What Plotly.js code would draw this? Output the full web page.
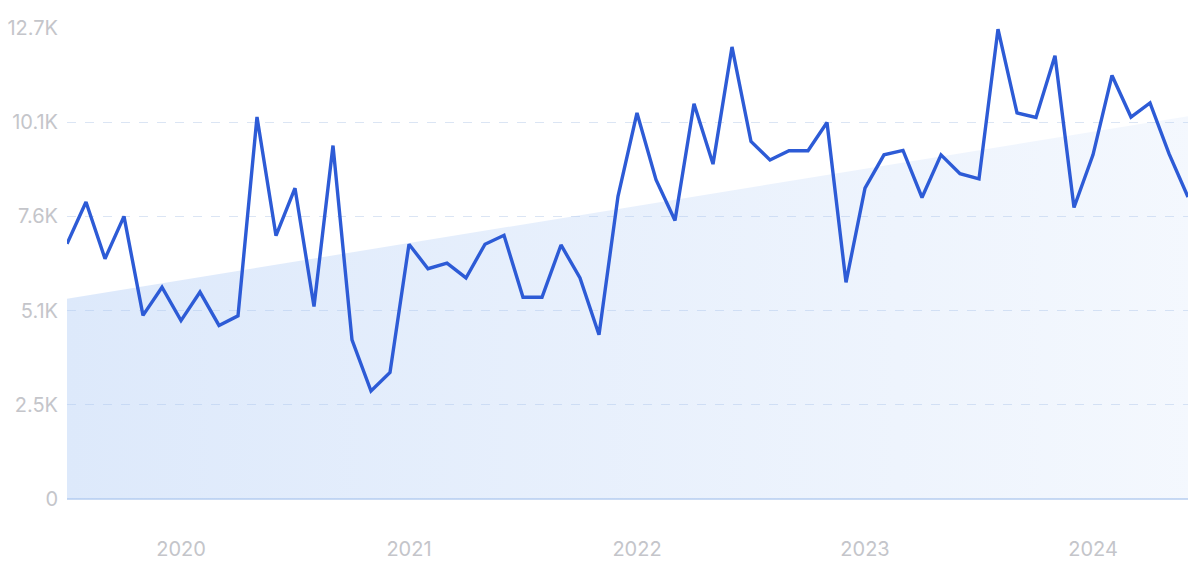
<!DOCTYPE html>
<html>
<head>
<meta charset="utf-8">
<script src="https://cdn.plot.ly/plotly-3.0.1.min.js"></script>
<style>
html,body{margin:0;padding:0;background:#fff;}
#chart{width:1200px;height:562px;}
</style>
</head>
<body>
<div id="chart"></div>
<script>
// Monthly values, Jul 2019 - Jun 2024
var months = [
 "2019-07","2019-08","2019-09","2019-10","2019-11","2019-12",
 "2020-01","2020-02","2020-03","2020-04","2020-05","2020-06","2020-07","2020-08","2020-09","2020-10","2020-11","2020-12",
 "2021-01","2021-02","2021-03","2021-04","2021-05","2021-06","2021-07","2021-08","2021-09","2021-10","2021-11","2021-12",
 "2022-01","2022-02","2022-03","2022-04","2022-05","2022-06","2022-07","2022-08","2022-09","2022-10","2022-11","2022-12",
 "2023-01","2023-02","2023-03","2023-04","2023-05","2023-06","2023-07","2023-08","2023-09","2023-10","2023-11","2023-12",
 "2024-01","2024-02","2024-03","2024-04","2024-05","2024-06"
];
var values = [
 6880, 8010, 6480, 7620, 4950, 5710,
 4810, 5580, 4680, 4940, 10300, 7100, 8380, 5190, 9530, 4290, 2910, 3410,
 6870, 6210, 6360, 5960, 6870, 7110, 5440, 5440, 6850, 5960, 4430, 8160,
 10410, 8610, 7510, 10660, 9030, 12190, 9640, 9140, 9390, 9390, 10150, 5840,
 8380, 9280, 9400, 8130, 9280, 8770, 8630, 12670, 10410, 10290, 11950, 7860,
 9280, 11420, 10300, 10680, 9310, 8140
];
// Trend band (start and end of trend line)
var trendX = ["2019-07", "2024-06"];
var trendY = [5400, 10320];

var yTickVals = [0, 2540, 5080, 7620, 10160, 12700];
var yTickText = ["0", "2.5K", "5.1K", "7.6K", "10.1K", "12.7K"];
var xTickVals = ["2020-01", "2021-01", "2022-01", "2023-01", "2024-01"];
var xTickText = ["2020", "2021", "2022", "2023", "2024"];

var traces = [
  {
    x: trendX, y: trendY, type: "scatter", mode: "lines",
    line: {width: 0, color: "rgba(0,0,0,0)"},
    fill: "tozeroy",
    fillcolor: "rgba(170,200,245,0.39)",
    fillgradient: {
      type: "horizontal",
      colorscale: [[0, "rgba(170,200,245,0.40)"], [1, "rgba(170,200,245,0.13)"]]
    },
    hoverinfo: "skip", showlegend: false
  },
  {
    x: months, y: values, type: "scatter", mode: "lines",
    line: {color: "#2d5bd6", width: 3.4, shape: "linear"},
    showlegend: false
  }
];

var layout = {
  width: 1200, height: 562,
  margin: {l: 67, r: 12, t: 28, b: 63},
  paper_bgcolor: "#ffffff",
  plot_bgcolor: "#ffffff",
  font: {family: "Inter, 'Noto Sans', sans-serif", color: "#c4c5ca", size: 20},
  xaxis: {
    type: "category",
    categoryorder: "array", categoryarray: months,
    range: [0, months.length - 1],
    tickvals: xTickVals, ticktext: xTickText,
    showgrid: false, zeroline: false, showline: false,
    ticks: "", ticklabelstandoff: 36,
    tickfont: {size: 20, color: "#c4c5ca"},
    fixedrange: true
  },
  yaxis: {
    range: [0, 12700],
    tickvals: yTickVals, ticktext: yTickText,
    showgrid: true, gridcolor: "#dbe5f4", griddash: "dash", gridwidth: 1,
    zeroline: true, zerolinecolor: "#c9daf3", zerolinewidth: 1.5,
    showline: false, ticks: "", ticklabelstandoff: 8,
    tickfont: {size: 20, color: "#c4c5ca"},
    fixedrange: true
  },
  showlegend: false
};

Plotly.newPlot("chart", traces, layout, {displayModeBar: false, staticPlot: true});
</script>
</body>
</html>
